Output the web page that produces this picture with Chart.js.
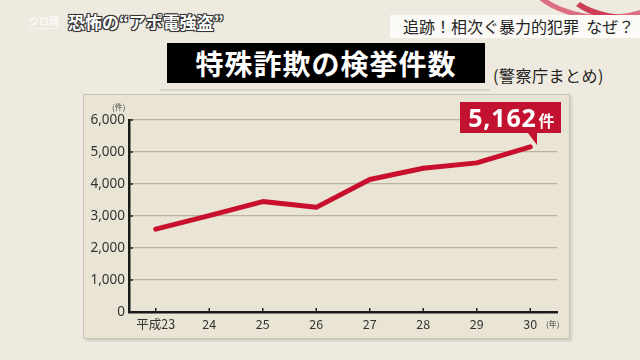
<!DOCTYPE html>
<html>
<head>
<meta charset="utf-8">
<script src="https://cdn.jsdelivr.net/npm/chart.js@4.4.1/dist/chart.umd.min.js"></script>
<style>
  html, body { margin:0; padding:0; }
  body { width:640px; height:360px; background:#efeadf; position:relative; overflow:hidden;
         font-family:"Noto Sans CJK JP","Noto Sans",sans-serif; }
  .abs { position:absolute; white-space:nowrap; }
  .arc { position:absolute; border-radius:50%; border-style:solid; border-color:transparent; }
  #logo { left:29px; top:13px; font-size:10px; color:#fff; opacity:0.75; font-weight:bold; border-bottom:1px solid rgba(255,255,255,0.7); }
  #topic { left:68px; top:9px; font-size:17px; font-weight:bold; color:#fff;
           text-shadow:-1px -1px 0 #333,1px -1px 0 #333,-1px 1px 0 #333,1px 1px 0 #333,0 0 2px #000; }
  #sub { left:390px; top:15px; width:250px; height:23px; background:#fbfaf6; }
  #subtxt { left:403px; top:15px; font-size:16px; line-height:23px; color:#222; }
  #title { left:167px; top:43px; width:318px; height:40px; background:#000; color:#fff;
           font-size:28px; font-weight:bold; line-height:40px; text-align:center; letter-spacing:1px; }
  #titleShadow { left:160px; top:89px; width:330px; height:2px; background:#d8d3c6; }
  #source { left:493px; top:63px; font-size:16px; color:#222; letter-spacing:0.5px; }
  #panel { left:83px; top:94px; width:485px; height:243px; background:#e9e4d3;
           border:1px solid #c9c3b3; box-shadow:2px 2px 2px rgba(0,0,0,0.12); }
  #wrap { position:absolute; left:83px; top:94px; width:487px; height:245px; }
  #unitY { left:112px; top:101px; font-size:8px; color:#444; }
  #unitX { left:546px; top:318px; font-size:8px; color:#444; }
  #anno { background:#c3122f; color:#fff; height:31px; line-height:31px; padding:0 6px 0 8px; font-family:"Noto Sans","Noto Sans CJK JP",sans-serif; }
  #anno .n { font-size:25px; font-weight:bold; letter-spacing:0.8px; }
  #anno .u { font-size:16px; font-weight:bold; margin-left:2px; }
  #annoTip { width:0; height:0; border-left:9px solid transparent; border-top:12px solid #c3122f; }
</style>
</head>
<body>
<div class="arc" style="left:520px;top:-90px;width:160px;height:100px;border-width:5px;border-bottom-color:rgba(214,80,105,0.8);"></div>
<div class="arc" style="left:560px;top:-60px;width:140px;height:70px;border-width:6px;border-bottom-color:rgba(200,32,62,0.85);"></div>
<div class="abs" id="logo">クロ現</div>
<div class="abs" id="topic">恐怖の“アポ電強盗”</div>
<div class="abs" id="sub"></div>
<div class="abs" id="subtxt">追跡！相次ぐ暴力的犯罪&nbsp;&nbsp;なぜ？</div>
<div class="abs" id="titleShadow"></div>
<div class="abs" id="title">特殊詐欺の検挙件数</div>
<div class="abs" id="source">(警察庁まとめ)</div>
<div class="abs" id="panel"></div>
<div id="wrap"><canvas id="c" width="487" height="245"></canvas></div>
<div class="abs" id="unitY">(件)</div>
<div class="abs" id="unitX">(年)</div>
<div class="abs" id="anno"><span class="n" id="annoNum"></span><span class="u">件</span></div>
<div class="abs" id="annoTip"></div>
<script>
const categories = ["平成23","24","25","26","27","28","29","30"];
const cases = [2590, 3010, 3450, 3270, 4140, 4490, 4660, 5162];
const yTicks = [0, 1000, 2000, 3000, 4000, 5000, 6000];

const innerTicks = {
  id: 'innerTicks',
  afterDatasetsDraw(chart) {
    const ctx = chart.ctx, x = chart.scales.x, y = chart.scales.y;
    ctx.save();
    ctx.strokeStyle = '#222'; ctx.lineWidth = 1.5;
    for (let i = 0; i < categories.length; i++) {
      const px = x.getPixelForValue(i);
      ctx.beginPath(); ctx.moveTo(px, y.bottom); ctx.lineTo(px, y.bottom - 4); ctx.stroke();
    }
    for (const v of yTicks) {
      const py = y.getPixelForValue(v);
      ctx.beginPath(); ctx.moveTo(x.left, py); ctx.lineTo(x.left + 4, py); ctx.stroke();
    }
    ctx.restore();
  }
};

const chart = new Chart(document.getElementById('c'), {
  type: 'line',
  data: { labels: categories, datasets: [{
    data: cases, borderColor: '#c8102e', borderWidth: 5, pointRadius: 0,
    tension: 0, borderCapStyle: 'round', borderJoinStyle: 'round', fill: false
  }]},
  options: {
    responsive: false, animation: false,
    layout: { padding: { top: 26, right: 13, left: 0, bottom: 0 } },
    plugins: { legend: { display: false }, tooltip: { enabled: false } },
    scales: {
      x: {
        offset: true,
        grid: { display: false, drawTicks: false },
        border: { color: '#1a1a1a', width: 2.5 },
        ticks: { color: '#333', font: { size: 12.5, family: '"Noto Sans CJK JP","Noto Sans",sans-serif' }, padding: 5, maxRotation: 0 },
        afterFit(s) { s.height = 27; }
      },
      y: {
        min: 0, max: 6000,
        afterBuildTicks(s) { s.ticks = yTicks.map(v => ({ value: v })); },
        grid: { color: '#b9b29e', lineWidth: 1.2, drawTicks: false },
        border: { color: '#1a1a1a', width: 2.5 },
        ticks: { color: '#333', font: { size: 13.5, family: '"Noto Sans","Liberation Sans",sans-serif' }, padding: 4,
                 callback: v => v.toLocaleString('en-US') },
        afterFit(s) { s.width = 46; }
      }
    }
  },
  plugins: [innerTicks]
});

// place annotation from the last data point
const last = cases.length - 1;
const px = chart.scales.x.getPixelForValue(last) + 83;
const py = chart.scales.y.getPixelForValue(cases[last]) + 94;
document.getElementById('annoNum').textContent = cases[last].toLocaleString('en-US');
const anno = document.getElementById('anno');
const w = anno.offsetWidth;
anno.style.left = (px + 30 - w) + 'px';
anno.style.top = (py - 45) + 'px';
const tip = document.getElementById('annoTip');
tip.style.left = (px - 2) + 'px';
tip.style.top = (py - 14) + 'px';
</script>
</body>
</html>
